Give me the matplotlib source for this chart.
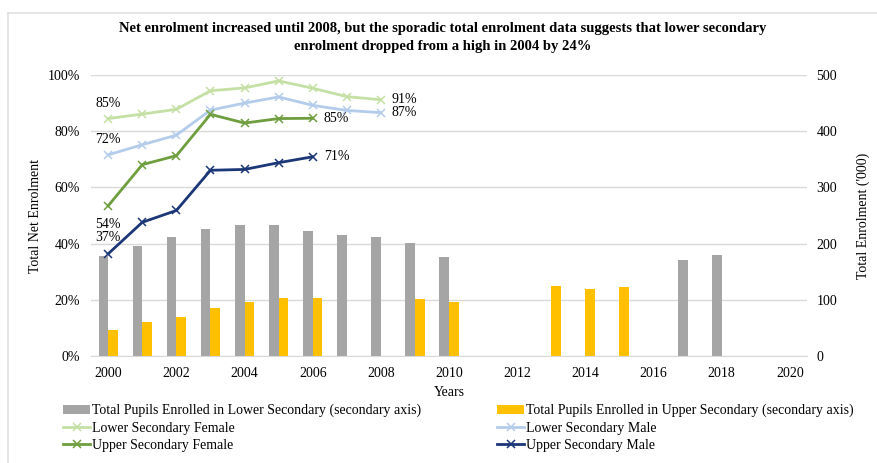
import matplotlib
matplotlib.use("Agg")
import matplotlib.pyplot as plt
from matplotlib.lines import Line2D
import numpy as np

plt.rcParams['font.family'] = ['Liberation Serif', 'DejaVu Serif']

title = ("Net enrolment increased until 2008, but the sporadic total enrolment data suggests that lower secondary\n"
         "enrolment dropped from a high in 2004 by 24%")

# Bars (secondary axis, thousands)
lower_years = [2000, 2001, 2002, 2003, 2004, 2005, 2006, 2007, 2008, 2009, 2010, 2017, 2018]
lower_total = [178, 196, 211, 226, 234, 234, 223, 215, 211, 202, 177, 170, 179]
upper_years = [2000, 2001, 2002, 2003, 2004, 2005, 2006, 2009, 2010, 2013, 2014, 2015]
upper_total = [46, 60, 69, 85, 97, 103, 104, 101, 97, 124, 120, 122]

# Lines (net enrolment, %)
lsf_years = [2000, 2001, 2002, 2003, 2004, 2005, 2006, 2007, 2008]
lsf = [84.5, 86.1, 87.8, 94.4, 95.4, 97.9, 95.3, 92.3, 91.2]
lsm_years = [2000, 2001, 2002, 2003, 2004, 2005, 2006, 2007, 2008]
lsm = [71.6, 75.2, 78.6, 87.5, 90.0, 92.2, 89.2, 87.4, 86.6]
usf_years = [2000, 2001, 2002, 2003, 2004, 2005, 2006]
usf = [53.5, 68.1, 71.3, 86.0, 82.9, 84.5, 84.6]
usm_years = [2000, 2001, 2002, 2003, 2004, 2005, 2006]
usm = [36.4, 47.6, 51.8, 66.1, 66.4, 68.8, 70.9]

xticks = list(range(2000, 2021, 2))
yticks_left = [0, 20, 40, 60, 80, 100]
yticks_right = [0, 100, 200, 300, 400, 500]

c_gray = '#A5A5A5'
c_yellow = '#FFC000'
c_lsf = '#C5E0A5'
c_lsm = '#B4CCEB'
c_usf = '#6E9E3E'
c_usm = '#1C3778'

fs = 10

fig = plt.figure(figsize=(8.77, 4.63), dpi=100)

# light chart border (top and left only)
bx, by = 8 / 877, 1 - 13 / 463
fig.add_artist(Line2D([bx, 1.0], [by, by], transform=fig.transFigure, color='#E0E0E0', linewidth=1.2))
fig.add_artist(Line2D([bx, bx], [0.0, by], transform=fig.transFigure, color='#E0E0E0', linewidth=1.2))

ax = fig.add_axes([0.104, 0.231, 0.816, 0.607])
ax2 = ax.twinx()

bw = 0.285
ax2.bar(np.array(lower_years) - bw / 2, lower_total, width=bw, color=c_gray,
        label='Total Pupils Enrolled in Lower Secondary (secondary axis)', zorder=1)
ax2.bar(np.array(upper_years) + bw / 2, upper_total, width=bw, color=c_yellow,
        label='Total Pupils Enrolled in Upper Secondary (secondary axis)', zorder=1)
ax2.set_ylim(0, 500)
ax2.set_yticks(yticks_right)
ax2.set_ylabel("Total Enrolment ('000)", fontsize=fs)
ax2.yaxis.set_label_coords(1.069, 0.5)

ax.set_zorder(ax2.get_zorder() + 1)
ax.patch.set_visible(False)

mk = dict(marker='x', markersize=6, markeredgewidth=1.1, linewidth=2)
ax.plot(lsf_years, lsf, color=c_lsf, label='Lower Secondary Female', **mk)
ax.plot(lsm_years, lsm, color=c_lsm, label='Lower Secondary Male', **mk)
ax.plot(usf_years, usf, color=c_usf, label='Upper Secondary Female', **mk)
ax.plot(usm_years, usm, color=c_usm, label='Upper Secondary Male', **mk)

ax.set_ylim(0, 100)
ax.set_xlim(1999.5, 2020.5)
ax.set_yticks(yticks_left)
ax.set_yticklabels([f"{v}%" for v in yticks_left])
ax.set_xticks(xticks)
ax.set_xticklabels([str(v) for v in xticks])
ax.set_xlabel("Years", fontsize=fs)
ax.xaxis.set_label_coords(0.5, -0.108)
ax.set_ylabel("Total Net Enrolment", fontsize=fs)
ax.yaxis.set_label_coords(-0.069, 0.5)

ax2.set_axisbelow(True)
ax2.yaxis.grid(True, color='#D9D9D9', linewidth=1)
for a in (ax, ax2):
    for s in a.spines.values():
        s.set_visible(False)
    a.tick_params(length=0, labelsize=fs)
ax2.spines['bottom'].set_visible(True)
ax2.spines['bottom'].set_color('#D9D9D9')
ax.tick_params(axis='x', pad=8)
ax.tick_params(axis='y', pad=8)
ax2.tick_params(axis='y', pad=7)

# data labels
ax.annotate("85%", (lsf_years[0], lsf[0]), xytext=(0, 11),
            textcoords='offset points', ha='center', va='center', fontsize=fs)
ax.annotate("72%", (lsm_years[0], lsm[0]), xytext=(0, 11),
            textcoords='offset points', ha='center', va='center', fontsize=fs)
ax.annotate("54%", (usm_years[0], usm[0]), xytext=(0, 21),
            textcoords='offset points', ha='center', va='center', fontsize=fs)
ax.annotate("37%", (usm_years[0], usm[0]), xytext=(0, 12),
            textcoords='offset points', ha='center', va='center', fontsize=fs)
ax.annotate("91%", (lsf_years[-1], lsf[-1]), xytext=(8, 0),
            textcoords='offset points', ha='left', va='center', fontsize=fs)
ax.annotate("87%", (lsm_years[-1], lsm[-1]), xytext=(8, 0),
            textcoords='offset points', ha='left', va='center', fontsize=fs)
ax.annotate("85%", (usf_years[-1], usf[-1]), xytext=(8, 0),
            textcoords='offset points', ha='left', va='center', fontsize=fs)
ax.annotate("71%", (usm_years[-1], usm[-1]), xytext=(8, 0),
            textcoords='offset points', ha='left', va='center', fontsize=fs)

fig.text(0.505, 1 - 37.5 / 463, title, ha='center', va='center', fontsize=10.5,
         fontweight='bold', linespacing=1.5)

h2, l2 = ax2.get_legend_handles_labels()
h1, l1 = ax.get_legend_handles_labels()
leg_kw = dict(loc='upper left', frameon=False, fontsize=fs, handlelength=1.95,
              handletextpad=0.15, labelspacing=0.3, borderaxespad=0, borderpad=0)
fig.legend([h2[0], h1[0], h1[2]], [l2[0], l1[0], l1[2]],
           bbox_to_anchor=(63 / 877, 1 - 404 / 463), **leg_kw)
fig.legend([h2[1], h1[1], h1[3]], [l2[1], l1[1], l1[3]],
           bbox_to_anchor=(497 / 877, 1 - 404 / 463), **leg_kw)

fig.savefig("out.png", dpi=100)
